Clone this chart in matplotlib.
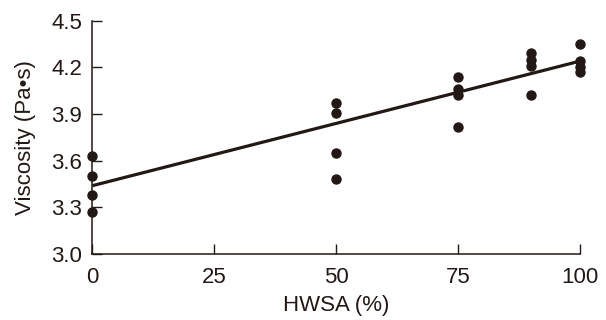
import matplotlib
matplotlib.use("Agg")
import matplotlib.pyplot as plt
import numpy as np

# Data
hwsa_x = [0, 0, 0, 0, 50, 50, 50, 50, 75, 75, 75, 75, 90, 90, 90, 90, 100, 100, 100, 100]
viscosity = [3.63, 3.50, 3.38, 3.27,
             3.97, 3.91, 3.65, 3.48,
             4.14, 4.06, 4.02, 3.82,
             4.29, 4.25, 4.21, 4.02,
             4.35, 4.24, 4.20, 4.17]
fit_intercept = 3.44
fit_slope = 0.0080
x_ticks = [0, 25, 50, 75, 100]
y_ticks = [3.0, 3.3, 3.6, 3.9, 4.2, 4.5]

ink = "#231815"
plt.rcParams['font.family'] = ['Liberation Sans', 'DejaVu Sans']

fig = plt.figure(figsize=(6.06, 3.2), dpi=100)
ax = fig.add_axes([0.1526, 0.206, 0.8037, 0.729])

fit_x = np.array([0, 100])
ax.plot(fit_x, fit_intercept + fit_slope * fit_x, color=ink, lw=2.3, zorder=2,
        solid_capstyle='butt')
ax.plot(hwsa_x, viscosity, 'o', color=ink, ms=7.5, mec='none', zorder=3, clip_on=False)

ax.set_xlim(0, 100)
ax.set_ylim(3.0, 4.5)
ax.set_xticks(x_ticks)
ax.set_yticks(y_ticks)
ax.set_yticklabels([f"{v:.1f}" for v in y_ticks])
for s in ['top', 'right']:
    ax.spines[s].set_visible(False)
for s in ['left', 'bottom']:
    ax.spines[s].set_color(ink)
    ax.spines[s].set_linewidth(1.1)
ax.tick_params(axis='both', direction='in', length=7, width=1.0, color=ink,
               labelsize=16, labelcolor=ink)
ax.tick_params(axis='x', pad=9)
ax.tick_params(axis='y', pad=7.5)
ax.set_xlabel("HWSA (%)", fontsize=16, color=ink, labelpad=5)
ax.set_ylabel("Viscosity (Pa\u2022s)", fontsize=16, color=ink, labelpad=11)

fig.savefig("out.png", dpi=100)
